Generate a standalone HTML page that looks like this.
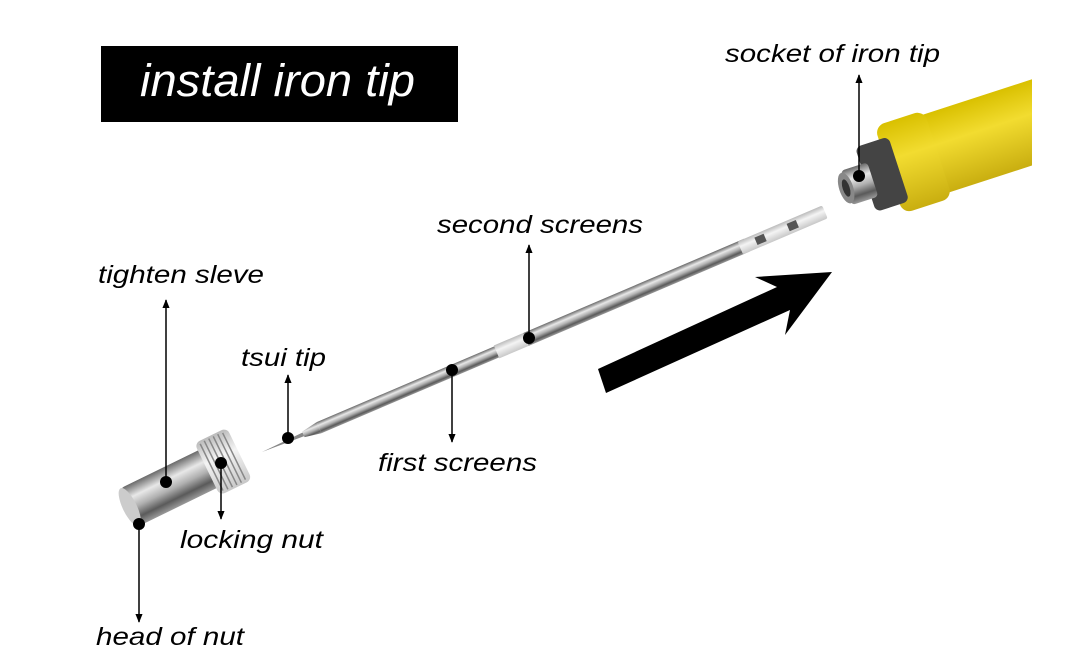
<!DOCTYPE html>
<html><head><style>
html,body{margin:0;padding:0;background:#fff;}
svg{display:block;}
text{font-family:"Liberation Sans",sans-serif;font-style:italic;}
</style></head><body>
<svg width="1080" height="665" viewBox="0 0 1080 665" xmlns="http://www.w3.org/2000/svg">
<defs>
<linearGradient id="metal" x1="0" y1="0" x2="0" y2="1">
<stop offset="0" stop-color="#6a6a6a"/><stop offset="0.3" stop-color="#e8e8e8"/><stop offset="0.55" stop-color="#b0b0b0"/><stop offset="0.8" stop-color="#5a5a5a"/><stop offset="1" stop-color="#9a9a9a"/>
</linearGradient>
<linearGradient id="white" x1="0" y1="0" x2="0" y2="1">
<stop offset="0" stop-color="#bbb"/><stop offset="0.4" stop-color="#f4f4f4"/><stop offset="1" stop-color="#c8c8c8"/>
</linearGradient>
<linearGradient id="yel" x1="0" y1="0" x2="0" y2="1">
<stop offset="0" stop-color="#d9c000"/><stop offset="0.4" stop-color="#f2dc30"/><stop offset="1" stop-color="#c9ae10"/>
</linearGradient>
<clipPath id="cl"><rect x="0" y="0" width="1032" height="665"/></clipPath>
<marker id="ah" viewBox="0 0 10 10" refX="9" refY="5" markerWidth="6" markerHeight="6" orient="auto-start-reverse"><path d="M0,1 L10,5 L0,9 z" fill="#000"/></marker>
</defs>

<rect x="101" y="46" width="357" height="76" fill="#000"/>
<text x="140" y="96" font-size="45" fill="#fff" textLength="275" lengthAdjust="spacingAndGlyphs">install iron tip</text>

<!-- handle -->
<g clip-path="url(#cl)">
<g transform="translate(862,185) rotate(-18)">
<rect x="60" y="-48" width="140" height="82" fill="url(#yel)"/>
<rect x="30" y="-52" width="52" height="92" rx="10" fill="url(#yel)"/>
<rect x="5" y="-38" width="35" height="68" rx="6" fill="#444"/>
<rect x="-16" y="-20" width="28" height="36" rx="4" fill="url(#metal)"/>
<ellipse cx="-16" cy="-2" rx="7" ry="16" fill="#888"/>
<ellipse cx="-16" cy="-2" rx="3.5" ry="9" fill="#333"/>
</g>
</g>

<!-- tip -->
<g transform="translate(262,452) rotate(-23.1)">
<polygon points="0,0 45,-2 45,2" fill="#888"/>
<polygon points="45,-3 62,-6 62,6 45,3" fill="url(#metal)"/>
<rect x="62" y="-6" width="195" height="12" fill="url(#metal)"/>
<rect x="255" y="-7" width="32" height="14" fill="url(#white)"/>
<rect x="287" y="-7" width="240" height="14" fill="url(#metal)"/>
<rect x="520" y="-7" width="92" height="14" rx="2" fill="url(#white)"/>
<rect x="537" y="-4" width="10" height="8" fill="#555"/>
<rect x="572" y="-4" width="10" height="8" fill="#555"/>
</g>

<!-- sleeve -->
<g transform="translate(128,508) rotate(-26)">
<rect x="0" y="-21" width="100" height="42" rx="6" fill="url(#metal)"/>
<ellipse cx="2" cy="0" rx="7" ry="21" fill="#ccc"/>
<rect x="88" y="-29" width="36" height="58" rx="6" fill="url(#white)"/>
<g stroke="#888" stroke-width="1.5">
<line x1="93" y1="-26" x2="93" y2="26"/><line x1="98" y1="-27" x2="98" y2="27"/><line x1="103" y1="-27" x2="103" y2="27"/><line x1="108" y1="-27" x2="108" y2="27"/><line x1="113" y1="-27" x2="113" y2="27"/><line x1="118" y1="-26" x2="118" y2="26"/>
</g>
</g>

<!-- big arrow -->
<polygon points="598,369 777,287 755,277 832,272 785,335 790,310 606,393" fill="#000"/>

<!-- callouts -->
<g stroke="#000" stroke-width="1.5" fill="none">
<line x1="859" y1="176" x2="859" y2="75" marker-end="url(#ah)"/>
<line x1="529" y1="338" x2="529" y2="245" marker-end="url(#ah)"/>
<line x1="452" y1="370" x2="452" y2="442" marker-end="url(#ah)"/>
<line x1="288" y1="438" x2="288" y2="375" marker-end="url(#ah)"/>
<line x1="166" y1="482" x2="166" y2="300" marker-end="url(#ah)"/>
<line x1="221" y1="463" x2="221" y2="519" marker-end="url(#ah)"/>
<line x1="139" y1="524" x2="139" y2="622" marker-end="url(#ah)"/>
</g>
<g fill="#000">
<circle cx="859" cy="176" r="6"/><circle cx="529" cy="338" r="6"/><circle cx="452" cy="370" r="6"/>
<circle cx="288" cy="438" r="6"/><circle cx="166" cy="482" r="6"/><circle cx="221" cy="463" r="6"/><circle cx="139" cy="524" r="6"/>
</g>
<g font-size="25" fill="#000" lengthAdjust="spacingAndGlyphs">
<text x="725" y="62" textLength="215" lengthAdjust="spacingAndGlyphs">socket of iron tip</text>
<text x="437" y="233" textLength="206" lengthAdjust="spacingAndGlyphs">second screens</text>
<text x="98" y="283" textLength="166" lengthAdjust="spacingAndGlyphs">tighten sleve</text>
<text x="241" y="366" textLength="85" lengthAdjust="spacingAndGlyphs">tsui tip</text>
<text x="378" y="471" textLength="159" lengthAdjust="spacingAndGlyphs">first screens</text>
<text x="180" y="548" textLength="143" lengthAdjust="spacingAndGlyphs">locking nut</text>
<text x="96" y="645" textLength="148" lengthAdjust="spacingAndGlyphs">head of nut</text>
</g>
</svg>
</body></html>
